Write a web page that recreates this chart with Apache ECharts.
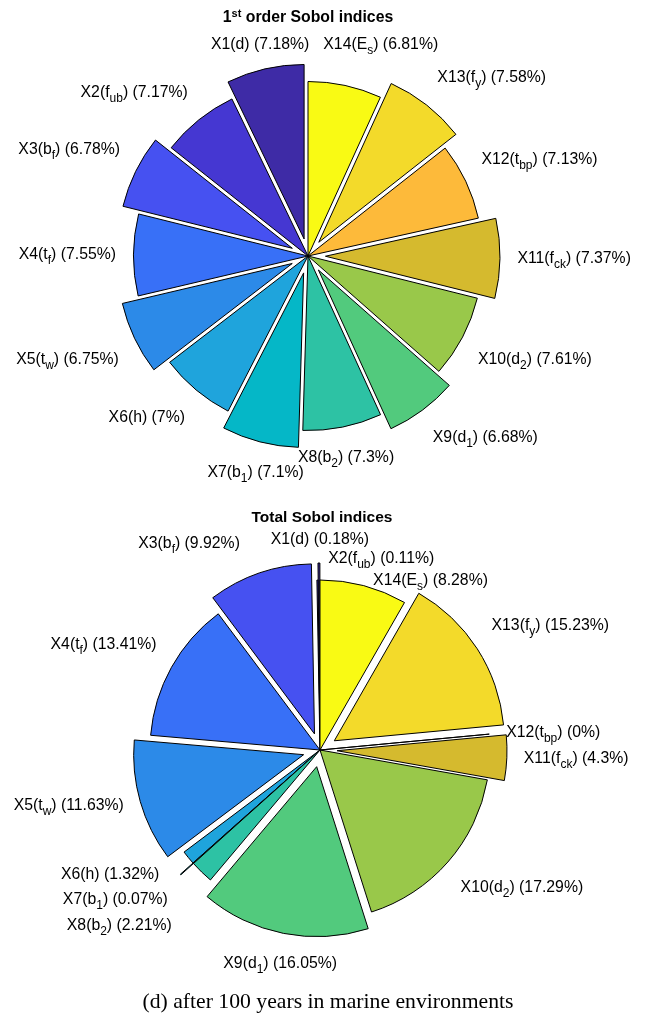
<!DOCTYPE html>
<html>
<head>
<meta charset="utf-8">
<script src="https://cdn.jsdelivr.net/npm/echarts@6/dist/echarts.min.js"></script>
<style>
  html, body { margin: 0; padding: 0; background: #fff; }
  #chart { width: 646px; height: 1026px; }
</style>
</head>
<body>
<div id="chart"></div>
<script>
// Input factors (text after "_" is set as a subscript)
const factors = ['X1(d)', 'X2(f_ub)', 'X3(b_f)', 'X4(t_f)', 'X5(t_w)', 'X6(h)', 'X7(b_1)',
                 'X8(b_2)', 'X9(d_1)', 'X10(d_2)', 'X11(f_ck)', 'X12(t_bp)', 'X13(f_y)', 'X14(E_s)'];
// 1st order Sobol indices (%)
const firstOrder = [7.18, 7.17, 6.78, 7.55, 6.75, 7, 7.1, 7.3, 6.68, 7.61, 7.37, 7.13, 7.58, 6.81];
// Total Sobol indices (%)
const totalOrder = [0.18, 0.11, 9.92, 13.41, 11.63, 1.32, 0.07, 2.21, 16.05, 17.29, 4.3, 0, 15.23, 8.28];
// Slices pulled out from the centre (1 = exploded)
const explode = [1, 0, 1, 0, 1, 0, 1, 0, 1, 0, 1, 0, 1, 0];

// parula colours, one per factor
const parula = ['#3e2ba6', '#4537d2', '#4651f1', '#3870f7', '#2c8ae8', '#1fa4dc', '#05b7c7',
                '#2dc2a4', '#52ca7d', '#99c84a', '#d5ba2e', '#fdba3a', '#f3da2a', '#f9fa14'];

const FONT = '"Liberation Sans", Arial, Helvetica, sans-serif';
const CLEAR = 'rgba(0,0,0,0)';

// Hand-placed offsets for labels that would otherwise collide
const topNudge = { 0: [-1, 7], 13: [32, -10] };
const bottomNudge = { 0: [1, 8], 1: [64, 10], 2: [-14, 1], 5: [-16, -8], 7: [-18, 27], 13: [5, 25] };

function richLabel(name, pct) {
  const tail = ' (' + pct + '%)';
  const u = name.indexOf('_');
  if (u < 0) return '{n|' + name + tail + '}';
  const close = name.indexOf(')', u);
  return '{n|' + name.slice(0, u) + '}{s|' + name.slice(u + 1, close) + '}{n|' + name.slice(close) + tail + '}';
}

// Labels sit just outside each slice (further out for exploded ones),
// aligned away from the pie like MATLAB's pie text.
function labelPlacer(values, cx, cy, R, nudge) {
  const total = values.reduce((a, b) => a + b, 0);
  return function (p) {
    const i = p.dataIndex;
    let before = 0;
    for (let k = 0; k < i; k++) before += values[k];
    const frac = (before + values[i] / 2) / total;
    const ang = (90 + frac * 360) * Math.PI / 180;
    const c = Math.cos(ang), s = Math.sin(ang);
    const r = R * (explode[i] ? 1.2 : 1.1);
    const align = Math.abs(c) < 0.255 ? 'center' : (c > 0 ? 'left' : 'right');
    const verticalAlign = s > 0.35 ? 'bottom' : (s < -0.35 ? 'top' : 'middle');
    const n = nudge[i] || [0, 0];
    const pad = verticalAlign === 'bottom' ? -2 : (verticalAlign === 'top' ? 2 : 0);
    return {
      x: cx + r * c + n[0],
      y: cy - r * s + n[1] + pad,
      align: align,
      verticalAlign: verticalAlign
    };
  };
}

function pieCommon(cx, cy, R) {
  return {
    type: 'pie',
    center: [cx, cy],
    radius: [0, R],
    startAngle: 90,
    clockwise: false,
    avoidLabelOverlap: false,
    silent: true,
    animation: false,
    emphasis: { disabled: true },
    labelLine: { show: false }
  };
}

// Coloured slices, every other one pulled out by a tenth of the radius
function sliceSeries(values, cx, cy, R) {
  return Object.assign(pieCommon(cx, cy, R), {
    selectedMode: 'multiple',
    selectedOffset: R * 0.1,
    itemStyle: { borderColor: '#000', borderWidth: 1 },
    label: { show: false },
    data: values.map((v, i) => ({
      name: factors[i],
      value: v,
      selected: explode[i] === 1,
      itemStyle: { color: parula[i] }
    }))
  });
}

// Same angles, invisible sectors: carries the text labels
function labelSeries(values, cx, cy, R, nudge) {
  return Object.assign(pieCommon(cx, cy, R), {
    itemStyle: { color: CLEAR, borderWidth: 0 },
    label: {
      show: true,
      position: 'outside',
      formatter: p => richLabel(factors[p.dataIndex], p.value),
      rich: {
        n: { fontFamily: FONT, fontSize: 15.8, color: '#000', lineHeight: 24 },
        s: { fontFamily: FONT, fontSize: 12, color: '#000', lineHeight: 12, verticalAlign: 'bottom' }
      }
    },
    labelLayout: labelPlacer(values, cx, cy, R, nudge),
    data: values.map((v, i) => ({ name: factors[i], value: v }))
  });
}

const TOP = { cx: 308, cy: 256, R: 174.5 };
const BOT = { cx: 320, cy: 750, R: 170 };

const chart = echarts.init(document.getElementById('chart'), null, { renderer: 'canvas' });
chart.setOption({
  backgroundColor: '#fff',
  animation: false,
  graphic: [
    {
      type: 'text', x: 308, y: 18,
      style: {
        text: '{a|1}{b|st}{a| order Sobol indices}',
        align: 'center', verticalAlign: 'middle',
        rich: {
          a: { fontFamily: FONT, fontSize: 15.8, fontWeight: 'bold', fill: '#000', lineHeight: 20 },
          b: { fontFamily: FONT, fontSize: 11, fontWeight: 'bold', fill: '#000', lineHeight: 11, verticalAlign: 'top' }
        }
      }
    },
    {
      type: 'text', x: 322, y: 518,
      style: {
        text: 'Total Sobol indices', align: 'center', verticalAlign: 'middle',
        font: 'bold 15.5px ' + FONT, fill: '#000'
      }
    },
    {
      type: 'text', x: 328, y: 1002,
      style: {
        text: '(d) after 100 years in marine environments', align: 'center', verticalAlign: 'middle',
        font: '21.7px "Liberation Serif", "Times New Roman", serif', fill: '#000'
      }
    }
  ],
  series: [
    sliceSeries(firstOrder, TOP.cx, TOP.cy, TOP.R),
    labelSeries(firstOrder, TOP.cx, TOP.cy, TOP.R, topNudge),
    sliceSeries(totalOrder, BOT.cx, BOT.cy, BOT.R),
    labelSeries(totalOrder, BOT.cx, BOT.cy, BOT.R, bottomNudge)
  ]
});
</script>
</body>
</html>
